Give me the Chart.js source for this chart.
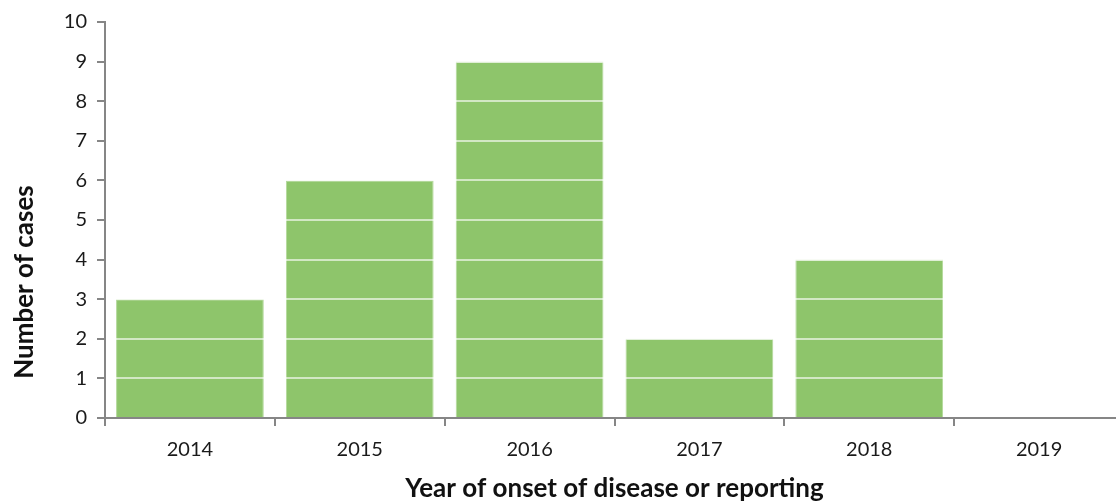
<!DOCTYPE html>
<html>
<head>
<meta charset="utf-8">
<script src="https://cdn.jsdelivr.net/npm/chart.js@4/dist/chart.umd.min.js"></script>
<style>
  html, body { margin: 0; padding: 0; background: #fff; overflow: hidden; }
  #wrap { position: absolute; left: 0; top: 0; width: 1116px; height: 504px; overflow: hidden; }
</style>
</head>
<body>
<div id="wrap"><canvas id="chart" width="1124" height="504"></canvas></div>
<script>
const years = ["2014", "2015", "2016", "2017", "2018", "2019"];
const cases = [3, 6, 9, 2, 4, 0];
const yTicks = [0, 1, 2, 3, 4, 5, 6, 7, 8, 9, 10];
const yTitle = "Number of cases";
const xTitle = "Year of onset of disease or reporting";

const axisGray = "#868686";
const barGreen = "rgb(142,197,107)";
const fontFam = "Lato, 'Open Sans', sans-serif";

// y title sits lower than the plot centre in the original, so draw it by hand
const yTitlePlugin = {
    id: "yTitle",
    afterDraw(chart) {
        const { ctx, chartArea } = chart;
        ctx.save();
        ctx.translate(25, chartArea.bottom - 136);
        ctx.rotate(-Math.PI / 2);
        ctx.font = "bold 26px " + fontFam;
        ctx.fillStyle = "#111";
        ctx.textAlign = "center";
        ctx.textBaseline = "middle";
        ctx.fillText(yTitle, 0, 0);
        ctx.restore();
    }
};

new Chart(document.getElementById("chart"), {
    type: "bar",
    data: {
        labels: years,
        datasets: [{
            label: yTitle,
            data: cases,
            backgroundColor: barGreen,
            borderColor: "rgb(178,216,153)",
            borderWidth: 1,
            borderSkipped: "bottom",
            barPercentage: 0.87,
            categoryPercentage: 1
        }]
    },
    options: {
        responsive: false,
        animation: false,
        layout: { padding: { top: 7, left: 0, right: 0, bottom: 0 } },
        plugins: {
            legend: { display: false },
            tooltip: { enabled: false }
        },
        scales: {
            x: {
                grid: {
                    offset: true,
                    drawOnChartArea: false,
                    tickLength: 8,
                    tickColor: axisGray,
                    lineWidth: 2
                },
                border: { color: axisGray, width: 2 },
                ticks: {
                    color: "#1a1a1a",
                    padding: 12,
                    font: { family: fontFam, size: 20 }
                },
                title: {
                    display: true,
                    text: xTitle,
                    color: "#111",
                    font: { family: fontFam, size: 26, weight: "bold" },
                    padding: { top: 6, bottom: 0 }
                },
                afterFit: s => { s.height = 86; }
            },
            y: {
                min: 0,
                max: 10,
                afterBuildTicks: s => { s.ticks = yTicks.map(v => ({ value: v })); },
                grid: {
                    z: 1,
                    color: ctx => (ctx.tick && ctx.tick.value === 0) ? "rgba(0,0,0,0)" : "rgba(255,255,255,0.6)",
                    lineWidth: 2,
                    tickLength: 8,
                    tickColor: axisGray
                },
                border: { color: axisGray, width: 2, z: 2 },
                ticks: {
                    color: "#1a1a1a",
                    padding: 10,
                    font: { family: fontFam, size: 20 }
                },
                title: { display: false },
                afterFit: s => { s.width = 105; }
            }
        }
    },
    plugins: [yTitlePlugin]
});
</script>
</body>
</html>
